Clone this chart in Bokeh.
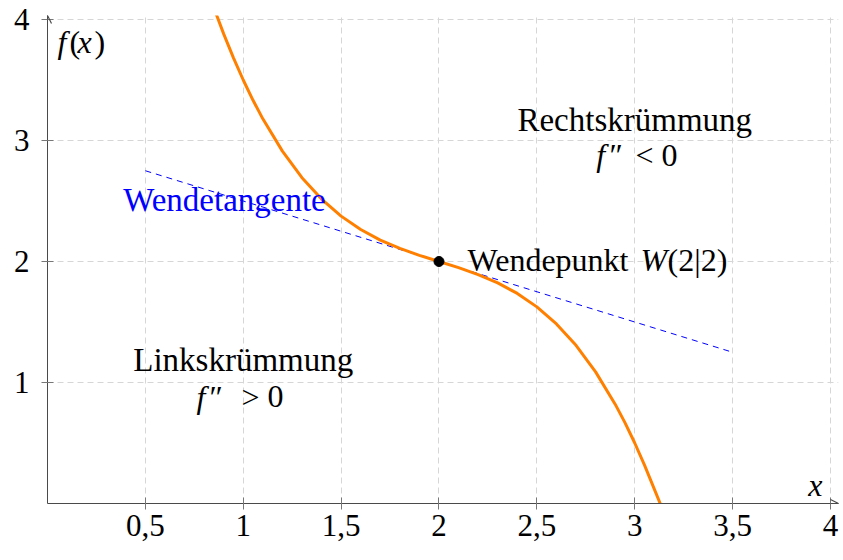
from bokeh.plotting import figure
from bokeh.models import Range1d, FixedTicker, Arrow, OpenHead
from bokeh.core.properties import value
from bokeh.embed import file_html
from bokeh.resources import INLINE

# f(x) sampled along the plotted branch
curve_x = [0.85, 0.9, 0.95, 1.0, 1.05, 1.1, 1.2, 1.3, 1.4, 1.5, 1.6, 1.7, 1.8, 1.9,
           2.0, 2.1, 2.2, 2.3, 2.4, 2.5, 2.6, 2.7, 2.8, 2.9, 2.95, 3.0, 3.05, 3.1, 3.13]
curve_y = [4.096, 3.881, 3.683, 3.5, 3.332, 3.179, 2.912, 2.693, 2.516, 2.375, 2.264,
           2.177, 2.108, 2.051, 2.0, 1.949, 1.892, 1.823, 1.736, 1.625, 1.484, 1.307,
           1.088, 0.821, 0.668, 0.5, 0.317, 0.119, 0.0]

# tangent at the inflection point
tangent_x = [0.5, 3.5]
tangent_y = [2.75, 1.25]

# inflection point W(2|2)
point_x = [2.0]
point_y = [2.0]

x_ticks = [0.5, 1, 1.5, 2, 2.5, 3, 3.5, 4]
x_tick_labels = ["0,5", "1", "1,5", "2", "2,5", "3", "3,5", "4"]
y_ticks = [1, 2, 3, 4]
y_tick_labels = ["1", "2", "3", "4"]

FONT = "Liberation Serif"
FS = "32px"
TICK_FS = "31px"
AXIS_COLOR = "#4a4a4a"

p = figure(width=843, height=560, output_backend="svg", toolbar_location=None,
           x_range=Range1d(0, 4.041), y_range=Range1d(0, 4.033),
           min_border_left=47, min_border_right=5, min_border_top=15,
           min_border_bottom=57)
p.outline_line_color = None
p.background_fill_color = "white"

for ax, ticks, labels in ((p.xaxis, x_ticks, x_tick_labels),
                          (p.yaxis, y_ticks, y_tick_labels)):
    ax.ticker = FixedTicker(ticks=ticks)
    ax.major_label_overrides = {t: l for t, l in zip(ticks, labels)}
    ax.minor_tick_line_color = None
    ax.major_tick_in = 6
    ax.major_tick_out = 6
    ax.axis_line_color = AXIS_COLOR
    ax.major_tick_line_color = "#777777"
    ax.major_label_text_font = FONT
    ax.major_label_text_font_size = TICK_FS
    ax.major_label_text_color = "black"
p.xaxis.major_label_standoff = 5
p.yaxis.major_label_standoff = 12

for g in (p.xgrid, p.ygrid):
    g.grid_line_color = "#d6d6d6"
    g.grid_line_dash = "6 4"
    g.grid_line_width = 1

# arrow heads at the ends of both axes
p.add_layout(Arrow(x_start=3.9, y_start=0, x_end=4.041, y_end=0,
                   line_color=AXIS_COLOR, line_width=1,
                   end=OpenHead(size=8, line_color=AXIS_COLOR, line_width=1.2)))
p.add_layout(Arrow(x_start=0, y_start=3.9, x_end=0, y_end=4.033,
                   line_color=AXIS_COLOR, line_width=1,
                   end=OpenHead(size=8, line_color=AXIS_COLOR, line_width=1.2)))

# tangent and curve
p.line(tangent_x, tangent_y, line_color="#0000ff", line_width=1, line_dash="6 5")
p.line(curve_x, curve_y, line_color="#ff8000", line_width=3)
p.scatter(point_x, point_y, size=10, color="black")

DY = 0.066  # baseline correction for the SVG text placement

def txt(x, y, s, align="left", style="normal", color="black", size=FS):
    p.text([x], [y + DY], text=[s], text_font=value(FONT), text_font_size=size,
           text_font_style=style, text_color=color, text_align=align,
           text_baseline="alphabetic")

# axis titles
txt(0.051, 3.752, "f", style="italic")
txt(0.112, 3.752, "(")
txt(0.153, 3.752, "x", style="italic")
txt(0.240, 3.752, ")")
txt(3.923, 0.091, "x", align="center", style="italic")

# region descriptions
txt(3.0, 3.107, "Rechtskrümmung", align="center", size="33px")
txt(2.804, 2.81, "f", style="italic")
txt(2.871, 2.81, "\u2033")
txt(3.004, 2.81, "<")
txt(3.218, 2.81, "0", align="right")

txt(1.0, 1.116, "Linkskrümmung", align="center", size="33px")
txt(0.761, 0.818, "f", style="italic")
txt(0.828, 0.818, "\u2033")
txt(0.991, 0.818, ">")
txt(1.206, 0.818, "0", align="right")

txt(0.904, 2.446, "Wendetangente", align="center", color="#0000ff", size="33px")

txt(2.146, 1.95, "Wendepunkt")
txt(3.03, 1.95, "W", style="italic")
txt(3.168, 1.95, "(2|2)")

open("out.html", "w").write(file_html(p, INLINE))
